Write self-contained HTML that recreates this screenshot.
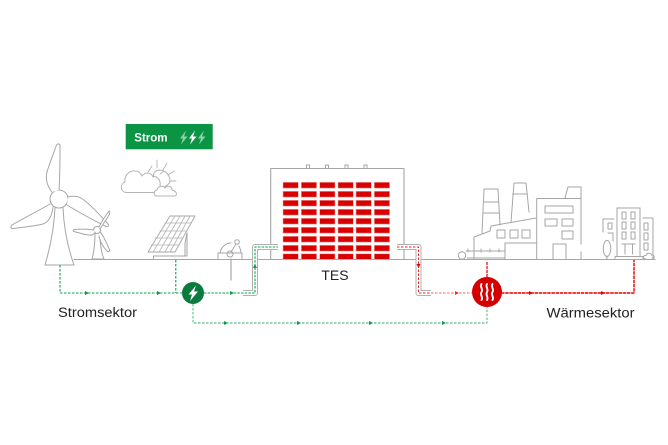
<!DOCTYPE html>
<html><head><meta charset="utf-8"><style>
html,body{margin:0;padding:0;background:#fff}
svg{display:block}
text{font-family:"Liberation Sans",sans-serif}
</style></head><body>
<svg width="668" height="445" viewBox="0 0 668 445" xmlns="http://www.w3.org/2000/svg">
<rect width="668" height="445" fill="#fff"/>
<g fill="none" stroke="#a6a6a6" stroke-width="1" stroke-linejoin="round" stroke-linecap="round">
<path d="M74 259.500H655" stroke-width="1.100"/>
<!-- big turbine -->
<path d="M55 208C54 230 50 248 45 265H74C68 248 64 230 63 208" fill="#fff"/>
<path d="M45 265H74"/>
<circle cx="59" cy="199" r="9" fill="#fff"/>
<path d="M52 192C48 187 45 180 47 172C50 162 54 152 56.500 145C57.500 143.500 59.500 143.500 60 145C60 160 60 178 59 190" fill="#fff"/>
<path d="M68 197C72 196 77 196 81 198C89 203 100 215 108 224C109 226 108 227 106 226.500C95 221 80 213 67 205" fill="#fff"/>
<path d="M50 204C38 211 22 219 12 225C10 227 11 229 13 228.500C24 227 36 226 43 224C49 222 52 215 53 207" fill="#fff"/>
<!-- small turbine -->
<path d="M95 233C95 243 94 252 92 259H104C101 252 100 243 100 233" fill="#fff"/>
<circle cx="97" cy="230" r="3.500" fill="#fff"/>
<path d="M99 227C102 221 106 215 109 211C110 211 110 213 109.500 214C107 219 103 224 100 229" fill="#fff"/>
<path d="M94 230C88 229 80 229 74 229.500C73 230 73 231 74 231.500C80 233 88 236 92 235C94 234 95 233 95 232" fill="#fff"/>
<path d="M100 232C104 236 107 244 109.500 250C109.500 252 108 252 107 251C104 248 100 242 99 236" fill="#fff"/>
<!-- cloud + sun -->
<path d="M154 180C152 174 154 171 159 170C165 170 170 175 170 181C170 183 167 186 164 187" stroke="#b4b4b4"/>
<path d="M148 172L152 166M157 168V160M163 170L167 163M168 175L174 171M170 181H176M164 171L160 174" stroke-width=".9" stroke="#b4b4b4"/>
<path d="M126 192.500C120 192 120 184 125 182C124 176 129 170 135 171C139 171 141 174 142 176C145 172 151 172 153 177C156 175 161 180 160 185C161 189 159 192 156 192.500Z" fill="#fff" stroke="#b4b4b4"/>
<path d="M156 196C153 195 154 190 157 190C158 186 163 185 165 188C167 185 172 186 172 190C177 191 178 196 174 196Z" fill="#fff" stroke="#b4b4b4"/>
<!-- solar -->
<path d="M170 216H195L175 252H148Z" stroke-width=".9"/>
<path d="M175 216L153 252M180 216L159 252M185 216L165 252M190 216L170 252M165 223H191.500M160 231H187M155 238H183M151 245H179" stroke-width=".8" stroke="#b4b4b4"/>
<path d="M185 243V256M187 234V256M187 233L185 243M153.500 259V256H187"/>
<!-- pump -->
<path d="M218 259V253H242V259"/>
<path d="M220 253C221 247 226 243 231 243M241 253C241 250 240 248 239 246"/>
<path d="M231 252L236 244"/>
<circle cx="230" cy="254" r="3"/>
<circle cx="237" cy="242" r="2.300"/>
<path d="M231 259V280" stroke-width="1.200"/>
<!-- TES -->
<path d="M270.700 259.500V168.500H404V259.500" stroke-width="1.100"/>
<path d="M306.500 168V165H309.500V168M325.500 168V165H328.500V168M345 168V165H348V168M364 168V165H367V168"/>
<!-- factory -->
<path d="M482 233L484 189H498L500 225M483.500 202H498.500M483 213H499.500"/>
<path d="M511 222L514 183H526L529 212M512.500 194H527.500"/>
<path d="M474 259V237L490 231L491 226L536 218"/>
<path d="M497 230h8v8h-8zM510 230h8v8h-8zM522 230h8v8h-8z"/>
<path d="M505 259V243H536.500"/>
<path d="M536.700 259V198.500H581V244M581 252V259M565 198L568 187H581V198"/>
<path d="M545 206h28v7h-28zM545 219h12v7h-12zM562 219h11v7h-11zM562 231h11v8h-11zM553 259V244H566V259"/>
<circle cx="462" cy="255.500" r="3.700"/>
<path d="M466 251H505M467 258H505M468 249V252M481 249V252M490 249V252M499 249V252M474 251V259"/>
<!-- city -->
<path d="M617 256V208H640V256"/>
<path d="M622 212h4v7h-4zM631 212h4v7h-4zM622 222h4v7h-4zM631 222h4v7h-4zM622 232h4v7h-4zM631 232h4v7h-4z"/>
<path d="M622 244H635M625 244V254M632.500 244V254M615 259V256.500H643V259"/>
<path d="M603 232V219H614M608 223h4v6h-4zM608 233H613V241"/>
<path d="M643 218H653V259M644 223h4v7h-4zM644 233h4v7h-4zM644 243h4v7h-4z"/>
<ellipse cx="607" cy="248.500" rx="3.800" ry="8"/>
<path d="M607 256V259.500"/>
<path d="M646 259C642 259 643 255 646 255.500C647 252 651 253 651.500 255C655 255 655 259 652 259"/>
</g>
<!-- bricks -->
<g fill="#d80000" stroke="#f4a3a3" stroke-width=".6">
<rect x="283" y="182.300" width="15.300" height="5.800"/><rect x="301.300" y="182.300" width="15.300" height="5.800"/><rect x="319.700" y="182.300" width="15.300" height="5.800"/><rect x="338" y="182.300" width="15.300" height="5.800"/><rect x="356" y="182.300" width="15.300" height="5.800"/><rect x="374.300" y="182.300" width="15.300" height="5.800"/>
<rect x="283" y="191.300" width="15.300" height="5.800"/><rect x="301.300" y="191.300" width="15.300" height="5.800"/><rect x="319.700" y="191.300" width="15.300" height="5.800"/><rect x="338" y="191.300" width="15.300" height="5.800"/><rect x="356" y="191.300" width="15.300" height="5.800"/><rect x="374.300" y="191.300" width="15.300" height="5.800"/>
<rect x="283" y="200.300" width="15.300" height="5.800"/><rect x="301.300" y="200.300" width="15.300" height="5.800"/><rect x="319.700" y="200.300" width="15.300" height="5.800"/><rect x="338" y="200.300" width="15.300" height="5.800"/><rect x="356" y="200.300" width="15.300" height="5.800"/><rect x="374.300" y="200.300" width="15.300" height="5.800"/>
<rect x="283" y="209.300" width="15.300" height="5.800"/><rect x="301.300" y="209.300" width="15.300" height="5.800"/><rect x="319.700" y="209.300" width="15.300" height="5.800"/><rect x="338" y="209.300" width="15.300" height="5.800"/><rect x="356" y="209.300" width="15.300" height="5.800"/><rect x="374.300" y="209.300" width="15.300" height="5.800"/>
<rect x="283" y="218.300" width="15.300" height="5.800"/><rect x="301.300" y="218.300" width="15.300" height="5.800"/><rect x="319.700" y="218.300" width="15.300" height="5.800"/><rect x="338" y="218.300" width="15.300" height="5.800"/><rect x="356" y="218.300" width="15.300" height="5.800"/><rect x="374.300" y="218.300" width="15.300" height="5.800"/>
<rect x="283" y="227.300" width="15.300" height="5.800"/><rect x="301.300" y="227.300" width="15.300" height="5.800"/><rect x="319.700" y="227.300" width="15.300" height="5.800"/><rect x="338" y="227.300" width="15.300" height="5.800"/><rect x="356" y="227.300" width="15.300" height="5.800"/><rect x="374.300" y="227.300" width="15.300" height="5.800"/>
<rect x="283" y="236.300" width="15.300" height="5.800"/><rect x="301.300" y="236.300" width="15.300" height="5.800"/><rect x="319.700" y="236.300" width="15.300" height="5.800"/><rect x="338" y="236.300" width="15.300" height="5.800"/><rect x="356" y="236.300" width="15.300" height="5.800"/><rect x="374.300" y="236.300" width="15.300" height="5.800"/>
<rect x="283" y="245.300" width="15.300" height="5.800"/><rect x="301.300" y="245.300" width="15.300" height="5.800"/><rect x="319.700" y="245.300" width="15.300" height="5.800"/><rect x="338" y="245.300" width="15.300" height="5.800"/><rect x="356" y="245.300" width="15.300" height="5.800"/><rect x="374.300" y="245.300" width="15.300" height="5.800"/>
<rect x="283" y="253.800" width="15.300" height="5.500"/><rect x="301.300" y="253.800" width="15.300" height="5.500"/><rect x="319.700" y="253.800" width="15.300" height="5.500"/><rect x="338" y="253.800" width="15.300" height="5.500"/><rect x="356" y="253.800" width="15.300" height="5.500"/><rect x="374.300" y="253.800" width="15.300" height="5.500"/>
</g>
<!-- pipes -->
<g fill="none" stroke-linejoin="round" stroke-linecap="butt">
<path d="M243 293H255V247H278" stroke="#b0b0b0" stroke-width="6"/>
<path d="M243 293H255V247H278" stroke="#fff" stroke-width="4"/>
<path d="M397 247H418.500V293H431" stroke="#b0b0b0" stroke-width="6"/>
<path d="M397 247H418.500V293H431" stroke="#fff" stroke-width="4"/>
</g>
<!-- green flows -->
<g fill="none" stroke="#12a052" stroke-linejoin="round">
<path d="M60 265V293H182" stroke-width="1.100" stroke-dasharray="2.500 1.500"/>
<path d="M175.800 260V293" stroke-width="1.100" stroke-dasharray="2.500 1.500"/>
<path d="M204 293H243H255V247H278" stroke-width="1.100" stroke-dasharray="2.500 1.200"/>
<path d="M193 304V323H487V305" stroke-width=".9" stroke-dasharray="2.500 1.500" stroke-opacity=".85"/>
</g>
<g fill="#0b9a4b">
<path d="M85 291L89 293L85 295Z"/><path d="M157 291L161 293L157 295Z"/>
<path d="M230 291L234 293L230 295Z"/>
<path d="M253 268L255 264L257 268Z"/>
<path d="M224 321L228 323L224 325Z"/><path d="M297 321L301 323L297 325Z"/><path d="M369 321L373 323L369 325Z"/><path d="M442 321L446 323L442 325Z"/>
</g>
<!-- red flows -->
<g fill="none" stroke="#e60000" stroke-linejoin="round">
<path d="M397 247H418.500V293H431" stroke-width="1" stroke-dasharray="2.500 1.500" stroke-opacity=".85"/>
<path d="M431 293H472" stroke-width="1" stroke-dasharray="2.500 1.500" stroke-opacity=".6"/>
<path d="M487 262V278" stroke-width="1.200" stroke-dasharray="3 1"/>
<path d="M501 293H634V260" stroke-width="1.400" stroke-dasharray="3.500 .7"/>
</g>
<g fill="#e60000">
<path d="M416.500 264L418.500 268L420.500 264Z"/>
<path d="M455 291L459 293L455 295Z" fill-opacity=".75"/>
<path d="M529 291L533 293L529 295Z"/><path d="M601 291L605 293L601 295Z"/>
</g>
<!-- nodes -->
<circle cx="193" cy="293" r="11" fill="#0b7a3e"/>
<path d="M196 285.500L188.500 294.500H192L190 301L198 291.500H194Z" fill="#fff"/>
<circle cx="487" cy="292" r="15" fill="#d40000"/>
<g fill="none" stroke="#fff" stroke-width="1.900" stroke-linecap="round">
<path d="M481.500 284C479.500 287 483.500 289 481.500 292C479.500 295 483.500 297 481.500 300"/>
<path d="M487 284C485 287 489 289 487 292C485 295 489 297 487 300"/>
<path d="M492.500 284C490.500 287 494.500 289 492.500 292C490.500 295 494.500 297 492.500 300"/>
</g>
<!-- Strom badge -->
<rect x="125.700" y="124" width="87" height="25.300" fill="#0a9444"/>
<text x="134.300" y="141.500" font-size="11.500" font-weight="700" fill="#fff">Strom</text>
<path d="M186 130.500L180 138.500H183L181 144.500L187.500 136.500H184Z" fill="#8fd0a8"/>
<path d="M195 130.500L189 138.500H192L190 144.500L196.500 136.500H193Z" fill="#fff"/>
<path d="M204 130.500L198 138.500H201L199 144.500L205.500 136.500H202Z" fill="#8fd0a8"/>
<!-- labels -->
<text x="335" y="280" font-size="14" fill="#222" text-anchor="middle">TES</text>
<text x="58" y="317" font-size="13.500" fill="#222" textLength="79" lengthAdjust="spacingAndGlyphs">Stromsektor</text>
<text x="546.500" y="317.500" font-size="13.500" fill="#222" textLength="88" lengthAdjust="spacingAndGlyphs">Wärmesektor</text>
</svg>
</body></html>
